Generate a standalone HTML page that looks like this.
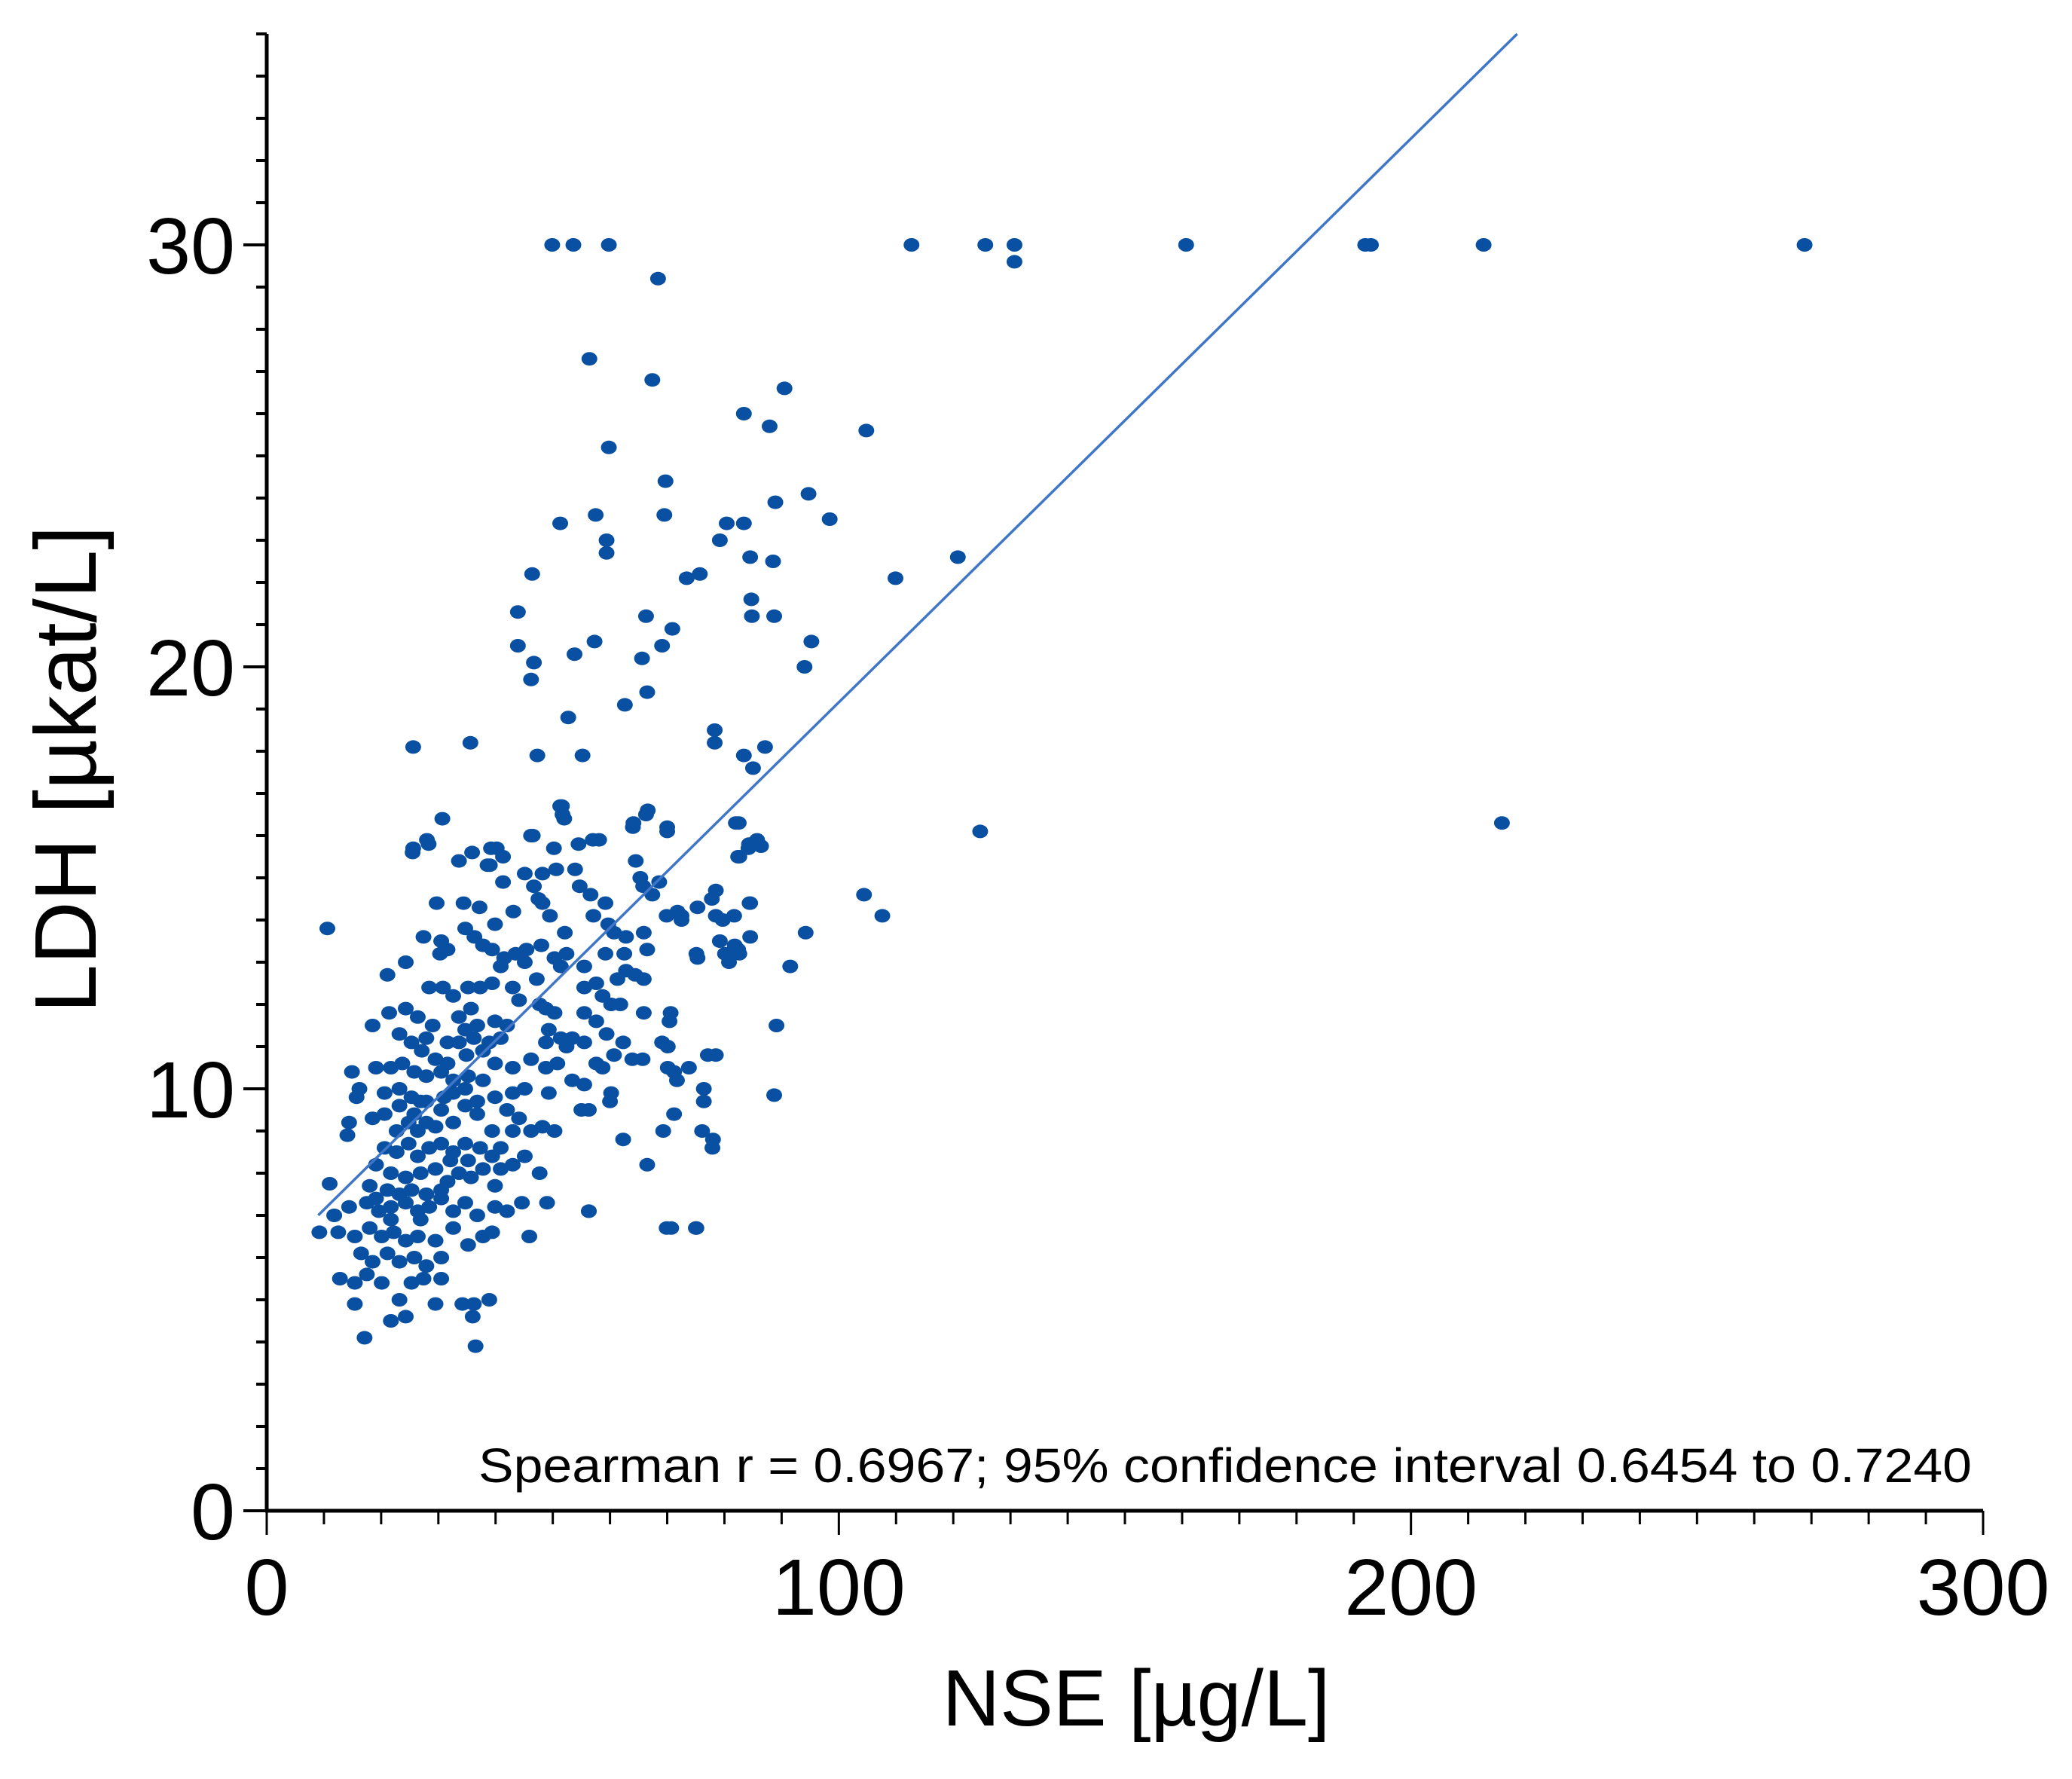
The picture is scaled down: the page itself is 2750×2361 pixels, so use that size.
<!DOCTYPE html>
<html><head><meta charset="utf-8"><style>
html,body{margin:0;padding:0;background:#fff;}
svg{display:block;font-family:"Liberation Sans",Arial,sans-serif;}
</style></head><body>
<svg id="chart" width="2750" height="2361" viewBox="0 0 2750 2361" xmlns="http://www.w3.org/2000/svg">
<g id="axes"></g>
<g id="points"></g>
<g id="fit"></g>
<text transform="translate(127,1021) rotate(-90)" text-anchor="middle" font-size="116" fill="#000">LDH [µkat/L]</text>
<text x="1508" y="2290" text-anchor="middle" font-size="106" fill="#000">NSE [µg/L]</text>
<text x="635" y="1967" font-size="64" textLength="1982" lengthAdjust="spacingAndGlyphs" fill="#000">Spearman r = 0.6967; 95% confidence interval 0.6454 to 0.7240</text>
</svg>
<script>
const xTicks=[0,100,200,300];
const yTicks=[0,10,20,30];
const fitIntercept=5.8;
const fitSlope=0.1336;
const nseValues=[49.9,53.6,59.8,112.7,125.6,130.7,130.7,160.7,192,193,212.7,268.8,68.4,56.4,67.4,59.8,90.5,83.4,87.9,104.8,69.7,94.7,88.9,69.5,57.5,51.3,98.4,80.4,83.4,79.2,59.4,59.4,84.5,88.5,120.8,75.7,73.4,46.4,109.9,84.7,43.9,66.3,88.7,84.8,70.9,57.3,95.2,43.9,69.1,53.8,46.7,65.6,46.2,94,66.5,62.6,52.7,78.3,25.6,35.6,78.3,87.1,55.2,47.3,83.4,85,
51.3,66.3,51.7,70,124.7,215.9,64,82,85.7,84.3,86.4,57,30.7,28,25.6,82.4,40.2,39,46.2,104.4,107.6,94.2,91.5,89.1,88.7,77.8,84.5,71.8,79.7,84.5,81.8,80.1,72.5,75.1,82.4,77.1,78,70.7,75,56.3,10.6,11,9.2,17.1,36.5,
28.3,25.5,51.6,52,66.6,64.1,70,46.5,50.2,54.5,58.1,33.6,35.9,39.2,41.3,38.6,64.5,65.3,65.8,68.6,67.4,41.3,45.1,48.2,50.6,53.9,54.7,56.6,46.7,47.5,48.2,49.5,29.7,34.4,37.2,43.1,57.1,59.2,69.9,72.5,75.3,78.5,81.7,78.5,79.2,75.3,82.6,80.8,82.5,82.6,84.2,84.4,
27.4,30.5,30.3,31.6,34.7,36.3,37.8,39.9,39.4,41.5,43.5,45.4,40.9,45.1,48,50.3,52.4,52.1,51.4,59.7,60.7,62.8,65.9,66.5,59.2,62.5,55.5,
24.3,21.1,28.4,30.8,32.6,35.2,37.3,39.4,43,44.1,47.2,47.7,35.7,33.6,36.8,39.9,42,40.9,38.9,36.2,34.7,
55.5,57.6,58.7,61.3,62.8,64.4,65.9,60.2,61.8,55.5,57.6,65.9,70.6,70.4,
48.8,50.3,49.3,48.8,51.4,53.4,52.4,55.5,59.4,62.3,60.7,63.9,65.7,69.1,70.1,78.5,
18.5,21.4,24.3,26.4,29,23.2,25.3,27.1,29.5,31.6,34.9,37.8,39.9,43,46.2,48.8,50.8,53.4,55.5,57.6,58.7,70.1,71.7,73.8,71.2,
14.9,19.1,21.7,23.7,25.8,27.9,30.5,16.2,15.7,20.6,23.2,25.3,27.9,32.6,34.7,36.8,39.9,43,45.1,49.3,60.2,60,76.4,76.4,
14.4,14.1,18.5,20.6,23.2,25.8,27.9,30.5,32.6,34.7,36.8,39.4,42,44.1,43,46.2,48.2,50.3,55,56.3,71.2,69.3,76.1,77.9,62.3,66.5,
20.6,22.7,24.8,26.4,28.4,30.5,32.6,34.7,37.3,39.4,40.9,43,45.1,47.7,37.8,19.1,21.7,24.3,26.9,29.5,31.6,33.6,35.7,39.9,18,
11.8,14.4,17.5,19.6,21.7,24.3,26.4,28.4,30.5,32.6,34.7,36.8,39.9,42,44.6,49,56.3,69.9,75.1,
12.5,15.4,18,20.1,22.2,24.3,26.4,29.5,35.2,37.8,39.4,45.9,
16.5,18.5,21.1,23.2,25.8,27.9,30.5,12.8,15.4,17.5,20.1,25.3,27.4,30.5,
15.4,23.2,29.5,34.2,36.2,38.9,21.7,24.3,36,
22.7,26.4,29.5,25.3,27.9,30.5,23.2,21.1,19.1,32.6,21.7,26.9,32.1,35.2,40.9,33.6,31.6,27.9,35.2,37.8,32.6,31,26.9,24.8];
const ldhValues=[30,30,30,30,30,30,29.6,30,30,30,30,30,29.2,27.3,26.8,25.2,26.6,26.0,25.7,25.6,24.4,24.1,23.9,23.6,23.6,23.4,23.5,23.4,23.4,23.0,23.0,22.7,22.6,22.5,22.6,22.2,22.1,22.2,22.1,21.6,21.3,21.2,21.2,21.2,20.9,20.6,20.6,20.5,20.5,20.3,20.1,20.2,19.7,20,19.4,19.1,18.8,18.5,18.1,18.2,18.2,18.1,17.9,17.9,17.9,17.6,
16.7,16.5,16.5,16.2,16.1,16.3,16.2,16.3,15.9,15.8,15.75,15.9,16.4,15.9,15.7,15.5,15.7,15.3,16.0,14.6,14.1,13.7,12.9,11.5,9.85,14.5,14.4,14.2,14.0,13.6,13.4,13.2,14.1,13.2,13.3,10.8,8.8,6.7,6.7,7.1,13.8,7.75,6.6,4.1,3.9,
15.8,15.6,16.7,16.4,16.6,16.3,16.1,16.0,15.7,15.8,15.9,15.4,15.6,15.7,15.5,15.3,15.4,15.0,14.8,14.9,14.6,14.9,15.1,15.1,15.2,15.2,14.8,14.6,14.8,14.5,14.4,14.1,14.4,14.4,14.3,14.2,14.1,14.4,14.1,14.0,14.3,14.1,14.1,14.7,13.5,13.1,13.2,13.0,16.3,15.5,15.7,14.4,
13.6,13.5,13.2,13.3,13.8,13.6,13.4,13.9,13.3,13.1,13.2,13.3,12.9,13.0,13.4,13.1,13.2,13.7,12.9,13.9,13.7,13.6,13.7,13.3,13.2,13.2,12.9,
13.0,12.7,12.4,12.4,12.2,12.4,12.4,12.5,12.4,12.1,12.6,12.0,11.9,11.7,11.5,11.6,11.5,11.2,11.1,11.2,11.4,
12.4,12.5,12.2,12.6,12.8,12.7,12.6,12.0,12.0,11.8,11.6,11.8,11.8,11.6,
11.9,11.8,11.4,11.1,11.2,11.2,11.0,11.1,11.3,11.1,10.8,10.7,10.7,11.1,11.0,10.8,
11.5,11.8,11.9,11.7,11.5,11.3,11.1,10.9,10.7,10.6,10.8,10.9,10.6,10.5,10.7,10.5,10.6,10.2,10.1,10.6,10.5,10.5,10.2,10.5,10.4,
10.4,10.5,10.5,10.6,10.4,10.3,10.4,10.0,9.8,9.9,10.0,9.8,9.7,9.9,10.0,9.7,9.8,9.9,10.0,9.9,9.9,9.7,10.0,9.7,
9.2,8.9,9.3,9.4,9.6,9.4,9.2,9.5,9.2,9.6,9.4,9.0,9.5,9.3,9.0,9.0,9.1,9.0,9.5,9.5,9.4,9.0,9.0,8.6,8.8,8.2,
8.6,8.5,8.7,8.4,8.6,8.7,8.5,8.7,8.6,8.4,8.6,8.2,8.4,8.0,8.1,8.2,8.0,7.9,8.0,8.1,7.8,8.0,7.9,7.7,7.7,
7.0,7.2,7.3,7.1,7.2,7.3,7.1,7.2,7.4,7.1,7.3,7.0,7.2,7.1,7.3,7.3,7.1,6.7,6.7,
6.6,6.5,6.7,6.5,6.6,6.4,6.5,6.4,6.3,6.5,6.6,6.5,
6.1,5.9,6.1,5.9,6.0,5.8,6.0,5.5,5.4,5.6,5.4,5.4,5.5,5.5,
4.9,5.0,4.9,4.9,4.9,5.0,4.5,4.6,4.6,
9.0,9.0,9.1,7.6,7.5,7.6,7.5,7.6,7.4,6.7,6.9,6.9,8.3,8.3,8.1,11.1,11.1,11.2,10.3,10.2,10.2,9.8,9.7,9.2];

const NS="http://www.w3.org/2000/svg";
const X0=354,X1=2632,Y0=2005,Y35=45;
const xScale=v=>X0+(v/300)*(X1-X0);
const yScale=v=>Y0-(v/35)*(Y0-Y35);
function mk(tag,attrs,parent){const e=document.createElementNS(NS,tag);for(const k in attrs)e.setAttribute(k,attrs[k]);parent.appendChild(e);return e;}

const axes=document.getElementById('axes');
const ya=mk('line',{x1:X0,y1:Y35,x2:X0,y2:Y0+2,stroke:'#000','stroke-width':5},axes);


const xa=mk('line',{x1:X0-2,y1:Y0,x2:X1,y2:Y0,stroke:'#000','stroke-width':5},axes);


for(let v=0;v<=35;v++){
  const major=v%10===0;
  const t=mk('line',{x1:X0-(major?31:14),y1:yScale(v),x2:X0,y2:yScale(v),stroke:'#000','stroke-width':4},axes);
  
  
}
for(let v=0;v<=300;v+=10){
  const major=v%100===0;
  const t=mk('line',{x1:xScale(v),y1:Y0,x2:xScale(v),y2:Y0+(major?32:18),stroke:'#000','stroke-width':3},axes);
  
  
}
yTicks.forEach(v=>{
  const t=mk('text',{x:312,y:yScale(v)+38,'text-anchor':'end','font-size':106,fill:'#000'},axes);
  t.textContent=v;
  
  
});
xTicks.forEach(v=>{
  const t=mk('text',{x:xScale(v),y:2143,'text-anchor':'middle','font-size':106,fill:'#000'},axes);
  t.textContent=v;
  
  
});

const pts=document.getElementById('points');
nseValues.forEach((xv,i)=>{
  const c=mk('ellipse',{cx:xScale(xv),cy:yScale(ldhValues[i]),rx:10.5,ry:9,fill:'#0a50a2'},pts);
  
  
});

const fit=document.getElementById('fit');
const xs=9, xe=(35-fitIntercept)/fitSlope;
const ln=mk('line',{x1:xScale(xs),y1:yScale(fitIntercept+fitSlope*xs),x2:xScale(xe),y2:yScale(fitIntercept+fitSlope*xe),stroke:'#3f76c8','stroke-width':3.5},fit);


</script>
</body></html>
